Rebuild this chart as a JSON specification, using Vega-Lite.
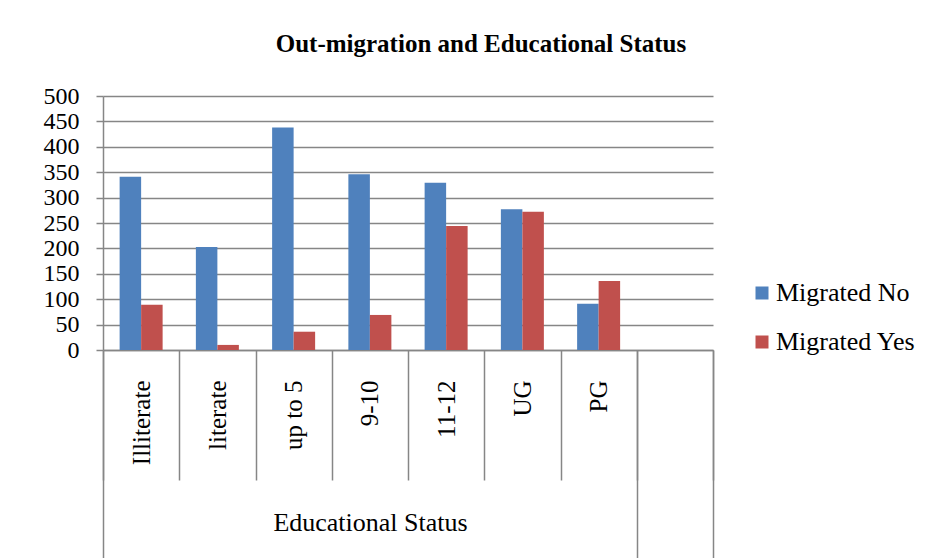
{
  "$schema": "https://vega.github.io/schema/vega-lite/v6.json",
  "width": 610,
  "height": 254,
  "autosize": "none",
  "padding": {"left": 103, "top": 96, "right": 224, "bottom": 208},
  "background": "white",
  "title": {"text": "Out-migration and Educational Status", "font": "Liberation Serif", "fontSize": 25, "fontWeight": "bold", "color": "black", "anchor": "middle", "frame": "group", "dx": 73, "offset": 7, "baseline": "alphabetic"},
  "data": {"values": [
    {"status": "Illiterate", "series": "Migrated No", "count": 341},
    {"status": "Illiterate", "series": "Migrated Yes", "count": 89},
    {"status": "literate", "series": "Migrated No", "count": 203},
    {"status": "literate", "series": "Migrated Yes", "count": 10},
    {"status": "up to 5", "series": "Migrated No", "count": 438},
    {"status": "up to 5", "series": "Migrated Yes", "count": 36},
    {"status": "9-10", "series": "Migrated No", "count": 346},
    {"status": "9-10", "series": "Migrated Yes", "count": 69},
    {"status": "11-12", "series": "Migrated No", "count": 329},
    {"status": "11-12", "series": "Migrated Yes", "count": 244},
    {"status": "UG", "series": "Migrated No", "count": 277},
    {"status": "UG", "series": "Migrated Yes", "count": 272},
    {"status": "PG", "series": "Migrated No", "count": 91},
    {"status": "PG", "series": "Migrated Yes", "count": 136}
  ]},
  "layer": [
    {
      "mark": {"type": "bar"},
      "encoding": {
        "x": {
          "field": "status", "type": "nominal",
          "scale": {"domain": ["Illiterate", "literate", "up to 5", "9-10", "11-12", "UG", "PG", ""], "paddingInner": 0, "paddingOuter": 0},
          "axis": {
            "orient": "bottom",
            "domain": true, "domainColor": "#868686", "domainWidth": 1.5,
            "ticks": true, "tickBand": "extent", "tickColor": "#868686", "tickWidth": 1.5, "tickSize": 130,
            "labelAngle": 270, "labelAlign": "right", "labelBaseline": "middle",
            "labelFont": "Liberation Serif", "labelFontSize": 25, "labelColor": "black", "labelPadding": -100, "labelOverlap": false,
            "title": "Educational Status", "titleFont": "Liberation Serif", "titleFontSize": 26, "titleFontWeight": "normal", "titleColor": "black",
            "titleX": 267, "titleY": 172, "titleBaseline": "middle", "titleAlign": "center"
          }
        },
        "xOffset": {"field": "series", "type": "nominal", "scale": {"paddingInner": 0, "paddingOuter": 0.773}},
        "y": {
          "field": "count", "type": "quantitative",
          "scale": {"domain": [0, 500], "nice": false},
          "axis": {
            "values": [0, 50, 100, 150, 200, 250, 300, 350, 400, 450, 500],
            "grid": true, "gridColor": "#868686", "gridWidth": 1.5,
            "domain": true, "domainColor": "#868686", "domainWidth": 1.5,
            "tickColor": "#868686", "tickSize": 7, "tickWidth": 1.5,
            "labelFont": "Liberation Serif", "labelFontSize": 24, "labelColor": "black", "labelPadding": 17, "labelOverlap": false,
            "title": null
          }
        },
        "color": {
          "field": "series", "type": "nominal",
          "scale": {"domain": ["Migrated No", "Migrated Yes"], "range": ["#4F81BD", "#C0504D"]},
          "legend": {
            "orient": "none", "legendX": 646, "legendY": 184, "title": null,
            "symbolType": "square", "symbolSize": 169, "symbolStrokeWidth": 0,
            "labelFont": "Liberation Serif", "labelFontSize": 26, "labelColor": "black", "labelOffset": 1, "rowPadding": 23
          }
        }
      }
    },
    {
      "mark": {"type": "bar", "opacity": 0},
      "encoding": {
        "x": {
          "field": "status", "type": "nominal",
          "axis": {
            "orient": "bottom",
            "domain": false, "labels": false, "title": null, "grid": false,
            "ticks": true, "tickBand": "extent", "tickColor": "#868686", "tickWidth": 1.5,
            "tickSize": {"condition": {"test": "datum.index < 0 || datum.index > 0.8", "value": 208}, "value": 0}
          }
        }
      }
    }
  ],
  "resolve": {"axis": {"x": "independent"}},
  "config": {"view": {"stroke": null}}
}
